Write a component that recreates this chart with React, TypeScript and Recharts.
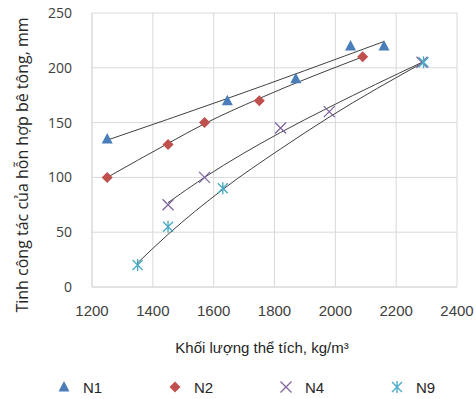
import React from 'react';
import { ComposedChart, Scatter, Line, XAxis, YAxis, CartesianGrid, Label } from 'recharts';

// measured points
const n1X = [1250, 1645, 1870, 2050, 2160];
const n1Y = [135, 170, 190, 220, 220];
const n2X = [1250, 1450, 1570, 1750, 2090];
const n2Y = [100, 130, 150, 170, 210];
const n4X = [1450, 1570, 1820, 1980, 2285];
const n4Y = [75, 100, 145, 160, 205];
const n9X = [1350, 1450, 1630, 2290];
const n9Y = [20, 55, 90, 205];

// trendlines
const trendN1X = [1250, 1645, 2160];
const trendN1Y = [134, 172, 224];
const trendN2X = [1250, 1450, 1570, 1750, 2090];
const trendN2Y = [100, 131, 149, 172, 210];
const trendN4X = [1450, 1570, 1820, 1980, 2285];
const trendN4Y = [77, 100, 141, 164, 205];
const trendN9X = [1350, 1450, 1630, 1820, 1980, 2290];
const trendN9Y = [22, 48, 89, 126, 155, 205];

const xTicks = [1200, 1400, 1600, 1800, 2000, 2200, 2400];
const yTicks = [0, 50, 100, 150, 200, 250];

const BLUE = '#4a7ebb';
const RED = '#c0504d';
const PURPLE = '#8064a2';
const AQUA = '#4bacc6';
const TREND = '#404040';

const pts = (xs: number[], ys: number[]) => xs.map((x, i) => ({ x, y: ys[i] }));

const Triangle = ({ cx, cy }: any) => (
  <polygon points={`${cx},${cy - 6} ${cx + 5.5},${cy + 4.5} ${cx - 5.5},${cy + 4.5}`} fill={BLUE} />
);
const Diamond = ({ cx, cy }: any) => (
  <polygon points={`${cx},${cy - 5.5} ${cx + 5.5},${cy} ${cx},${cy + 5.5} ${cx - 5.5},${cy}`} fill={RED} />
);
const Cross = ({ cx, cy }: any) => (
  <path d={`M${cx - 5.5},${cy - 5.5}L${cx + 5.5},${cy + 5.5}M${cx - 5.5},${cy + 5.5}L${cx + 5.5},${cy - 5.5}`} stroke={PURPLE} strokeWidth={1.3} fill="none" />
);
const Star = ({ cx, cy }: any) => (
  <path d={`M${cx - 5},${cy - 5}L${cx + 5},${cy + 5}M${cx - 5},${cy + 5}L${cx + 5},${cy - 5}M${cx},${cy - 6}L${cx},${cy + 6}`} stroke={AQUA} strokeWidth={1.4} fill="none" />
);

const legendItems = [
  { name: 'N1', Shape: Triangle },
  { name: 'N2', Shape: Diamond },
  { name: 'N4', Shape: Cross },
  { name: 'N9', Shape: Star },
];

export default function App() {
  return (
    <div style={{ position: 'absolute', left: 0, top: 0, width: 476, height: 399, background: '#fff' }}>
      <ComposedChart width={476} height={399} margin={{ top: 13, right: 19, bottom: 82, left: 0 }}>
        <CartesianGrid stroke="#d9d9d9" strokeWidth={1} />
        <XAxis
          type="number"
          dataKey="x"
          domain={[1200, 2400]}
          ticks={xTicks}
          height={30}
          tickLine={false}
          tickSize={0}
          tickMargin={18}
          axisLine={{ stroke: '#d9d9d9' }}
          tick={{ fill: '#404040', fontSize: 15, fontFamily: '"Liberation Sans", Arial, sans-serif' }}
        >
          <Label
            content={() => (
              <text x={262} y={353} textAnchor="middle" fill="#262626" fontSize={15} fontFamily='"Liberation Sans", Arial, sans-serif'>
                Khối lượng thể tích, kg/m³
              </text>
            )}
          />
        </XAxis>
        <YAxis
          type="number"
          dataKey="y"
          domain={[0, 250]}
          ticks={yTicks}
          width={92}
          tickLine={false}
          tickSize={0}
          tickMargin={20}
          axisLine={{ stroke: '#d9d9d9' }}
          tick={{ fill: '#404040', fontSize: 14, fontFamily: '"Open Sans", sans-serif' }}
        >
          <Label
            content={() => (
              <text x={22} y={165} transform="rotate(-90 22 165)" textAnchor="middle" dominantBaseline="central" fill="#262626" fontSize={16} fontFamily='"Open Sans", sans-serif'>
                Tinh công tác của hỗn hợp bê tông, mm
              </text>
            )}
          />
        </YAxis>
        <Scatter name="N1" data={pts(n1X, n1Y)} dataKey="y" shape={Triangle} isAnimationActive={false} />
        <Scatter name="N2" data={pts(n2X, n2Y)} dataKey="y" shape={Diamond} isAnimationActive={false} />
        <Scatter name="N4" data={pts(n4X, n4Y)} dataKey="y" shape={Cross} isAnimationActive={false} />
        <Scatter name="N9" data={pts(n9X, n9Y)} dataKey="y" shape={Star} isAnimationActive={false} />
        <Line data={pts(trendN1X, trendN1Y)} dataKey="y" type="monotone" stroke={TREND} strokeWidth={1} dot={false} activeDot={false} legendType="none" isAnimationActive={false} />
        <Line data={pts(trendN2X, trendN2Y)} dataKey="y" type="monotone" stroke={TREND} strokeWidth={1} dot={false} activeDot={false} legendType="none" isAnimationActive={false} />
        <Line data={pts(trendN4X, trendN4Y)} dataKey="y" type="monotone" stroke={TREND} strokeWidth={1} dot={false} activeDot={false} legendType="none" isAnimationActive={false} />
        <Line data={pts(trendN9X, trendN9Y)} dataKey="y" type="monotone" stroke={TREND} strokeWidth={1} dot={false} activeDot={false} legendType="none" isAnimationActive={false} />
      </ComposedChart>
      <svg width={476} height={30} style={{ position: 'absolute', left: 0, top: 372 }}>
        {legendItems.map((it, i) => {
          const cx = 64 + i * 111;
          return (
            <g key={it.name}>
              <it.Shape cx={cx} cy={15} />
              <text x={cx + 19} y={15} dominantBaseline="central" fill="#262626" fontSize={15} fontFamily='"Liberation Sans", Arial, sans-serif'>
                {it.name}
              </text>
            </g>
          );
        })}
      </svg>
    </div>
  );
}
